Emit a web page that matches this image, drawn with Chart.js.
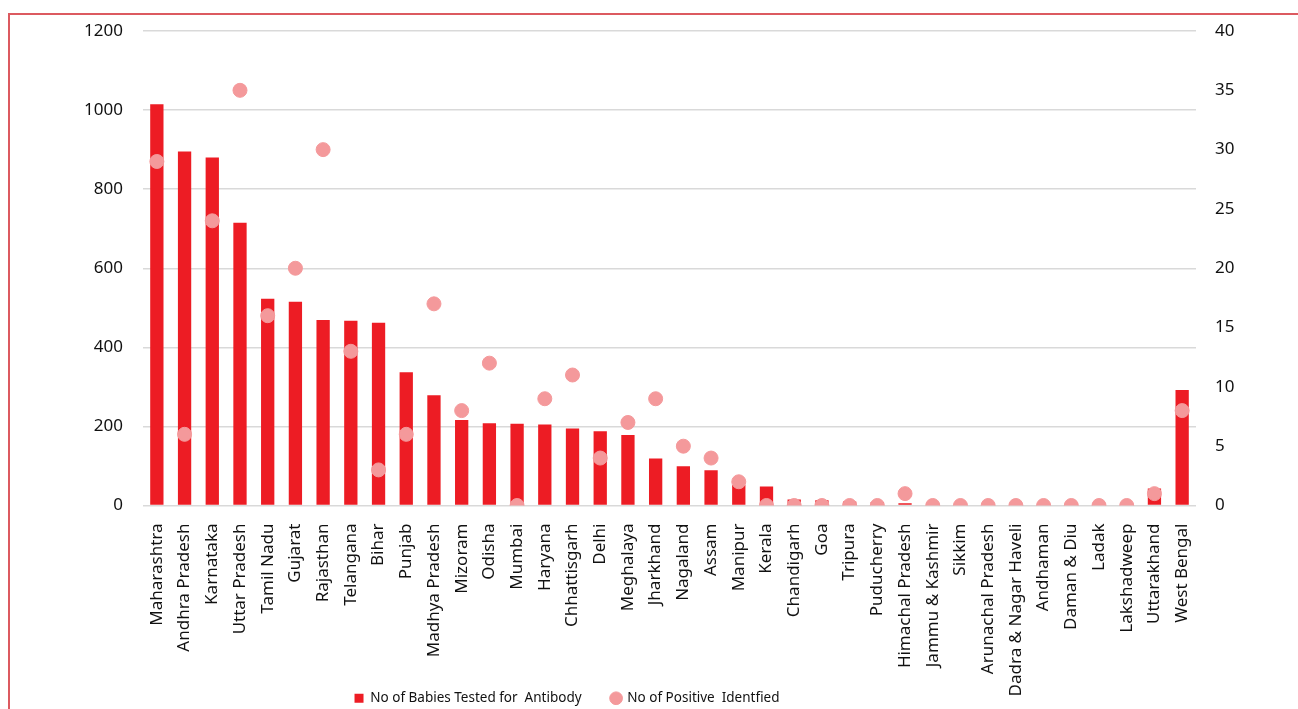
<!DOCTYPE html>
<html>
<head>
<meta charset="utf-8">
<script src="https://cdn.jsdelivr.net/npm/chart.js@4"></script>
<style>
  html, body { margin:0; padding:0; background:#fff; }
  #wrap { position:relative; width:1298px; height:709px; }
  #frame { position:absolute; left:8px; top:13px; width:1400px; height:800px; border-left:2px solid #dc5a60; border-top:2px solid #dc5a60; }
  canvas { position:absolute; left:0; top:0; }
</style>
</head>
<body>
<div id="wrap">
  <div id="frame"></div>
  <canvas id="chart" width="1298" height="709"></canvas>
</div>
<script>
const states = ['Maharashtra','Andhra Pradesh','Karnataka','Uttar Pradesh','Tamil Nadu','Gujarat','Rajasthan','Telangana','Bihar','Punjab','Madhya Pradesh','Mizoram','Odisha','Mumbai','Haryana','Chhattisgarh','Delhi','Meghalaya','Jharkhand','Nagaland','Assam','Manipur','Kerala','Chandigarh','Goa','Tripura','Puducherry','Himachal Pradesh','Jammu & Kashmir','Sikkim','Arunachal Pradesh','Dadra & Nagar Haveli','Andhaman','Daman & Diu','Ladak','Lakshadweep','Uttarakhand','West Bengal'];
const babiesTested = [1015,895,880,715,523,515,469,467,462,337,279,216,208,207,205,195,188,178,119,99,89,52,48,15,13,10,9,6,2,2,2,2,2,2,2,2,43,292];
const positives = [29,6,24,35,16,20,30,13,3,6,17,8,12,0,9,11,4,7,9,5,4,2,0,0,0,0,0,1,0,0,0,0,0,0,0,0,1,8];
const leftTicks = [0,200,400,600,800,1000,1200];
const rightTicks = [0,5,10,15,20,25,30,35,40];

const font = {family:'"Noto Sans", sans-serif', size:17};
const legendFont = {family:'"Noto Sans", sans-serif', size:13.5};
const gridColor = '#d9d9d9';

// nudge the legend to where it sits in the original
const legendShift = {
  id:'legendShift',
  afterLayout(chart){
    const lg = chart.legend;
    lg.left = 0; lg.right = 1134;
    lg.top += 6; lg.bottom += 6;
  }
};

new Chart(document.getElementById('chart').getContext('2d'), {
  data:{
    labels:states,
    datasets:[
      {type:'scatter', label:'No of Positive  Identfied', data:positives, yAxisID:'y2',
       backgroundColor:'#f4999b', borderColor:'#f4999b', pointRadius:7, pointHoverRadius:7,
       pointStyle:'circle', order:0},
      {type:'bar', label:'No of Babies Tested for  Antibody', data:babiesTested, yAxisID:'y',
       backgroundColor:'#ed1c24', borderWidth:0, barPercentage:0.48, categoryPercentage:1,
       pointStyle:'rect', order:1}
    ]
  },
  options:{
    responsive:false, animation:false,
    layout:{padding:{top:31, left:0, right:0, bottom:0}},
    plugins:{
      tooltip:{enabled:false},
      legend:{
        position:'bottom', reverse:true,
        labels:{usePointStyle:true, boxWidth:9, boxHeight:9, color:'#111', font:legendFont, padding:30}
      }
    },
    scales:{
      x:{
        type:'category', offset:true,
        grid:{display:false}, border:{display:false},
        ticks:{autoSkip:false, maxRotation:90, minRotation:90, color:'#111', font:font, padding:10},
        afterFit(s){
          s.height = 150;
          s._computeLabelArea = () => undefined; // let long labels run past the box
        }
      },
      y:{
        position:'left', min:0, max:1200,
        afterBuildTicks(s){ s.ticks = leftTicks.map(v=>({value:v})); },
        grid:{color:gridColor, lineWidth:1.5, drawTicks:false}, border:{display:false},
        ticks:{color:'#111', font:font, padding:20, callback:v=>String(v)},
        afterFit(s){ s.width = 143; }
      },
      y2:{
        position:'right', min:0, max:40,
        afterBuildTicks(s){ s.ticks = rightTicks.map(v=>({value:v})); },
        grid:{display:false, drawTicks:false}, border:{display:false},
        ticks:{color:'#111', font:font, padding:19, callback:v=>String(v)},
        afterFit(s){ s.width = 102; }
      }
    }
  },
  plugins:[legendShift]
});
</script>
</body>
</html>
